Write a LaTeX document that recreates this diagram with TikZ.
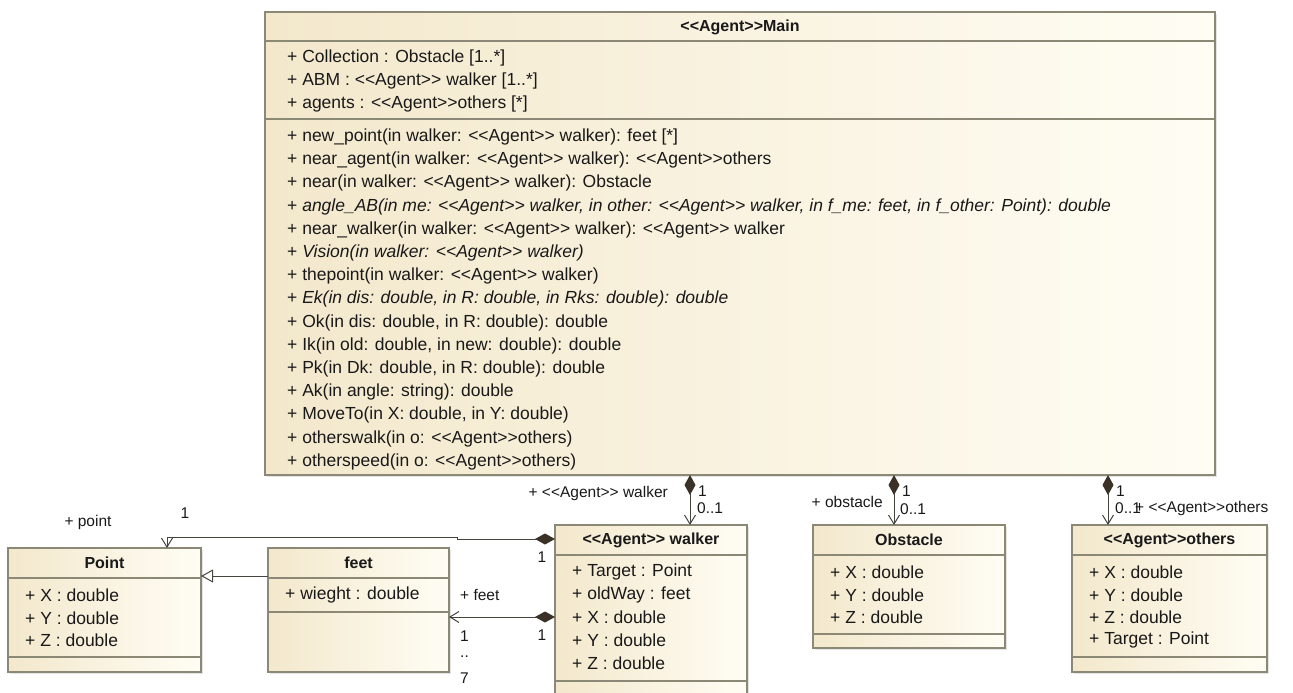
\documentclass[tikz,border=0pt]{standalone}
\usepackage{fontspec}
\newfontfamily\umlfont{Liberation Sans}
\usetikzlibrary{arrows.meta,shadows}

\definecolor{boxline}{RGB}{140,136,118}
\definecolor{fillL}{RGB}{243,232,204}
\definecolor{fillR}{RGB}{255,253,244}
\definecolor{conn}{RGB}{70,68,62}
\definecolor{diam}{RGB}{58,50,38}
\definecolor{txt}{RGB}{25,25,25}

\begin{document}
\begin{tikzpicture}[x=1pt,y=-1pt,
  classbox/.style={draw=boxline, line width=1.2pt, left color=fillL, right color=fillR,
    anchor=north west, inner sep=0pt, outer sep=0pt,
    general shadow={fill=black!30, opacity=.35, shadow xshift=2pt, shadow yshift=-2pt}},
  sepline/.style={draw=boxline, line width=1.1pt},
  member/.style={anchor=west, inner sep=0pt, text=txt, font=\umlfont\fontsize{17.5}{20}\selectfont},
  ctitle/.style={inner sep=0pt, text=txt, font=\umlfont\bfseries\fontsize{16}{19}\selectfont},
  lbl/.style={inner sep=0pt, text=txt, font=\umlfont\fontsize{15.5}{18}\selectfont},
  comp/.style={draw=conn, line width=1pt,
    arrows={Diamond[length=20pt,width=11pt,fill=diam,color=diam]-Straight Barb[length=9pt,width=11pt]}},
  gen/.style={draw=conn, line width=1pt, arrows={-Triangle[open,length=12pt,width=13pt]}}
]
\useasboundingbox (0,0) rectangle (1293,693);
\clip (0,0) rectangle (1293,693);

% ---------- class boxes ----------
\node[classbox, minimum width=950, minimum height=463] (main)  at (265,12) {};
\node[classbox, minimum width=192, minimum height=185] (walker) at (555,525) {};
\node[classbox, minimum width=192, minimum height=123] (obst)   at (813,525) {};
\node[classbox, minimum width=195, minimum height=147] (others) at (1072,525) {};
\node[classbox, minimum width=193, minimum height=124] (point)  at (8,548) {};
\node[classbox, minimum width=181, minimum height=124] (feet)   at (268,548) {};

% ---------- compartment separators ----------
\draw[sepline] (main.north west |- 0,41)  -- (main.north east |- 0,41);
\draw[sepline] (main.north west |- 0,119) -- (main.north east |- 0,119);
\draw[sepline] (walker.north west |- 0,555) -- (walker.north east |- 0,555);
\draw[sepline] (walker.north west |- 0,681) -- (walker.north east |- 0,681);
\draw[sepline] (obst.north west |- 0,555) -- (obst.north east |- 0,555);
\draw[sepline] (obst.north west |- 0,634) -- (obst.north east |- 0,634);
\draw[sepline] (others.north west |- 0,555) -- (others.north east |- 0,555);
\draw[sepline] (others.north west |- 0,657) -- (others.north east |- 0,657);
\draw[sepline] (point.north west |- 0,578) -- (point.north east |- 0,578);
\draw[sepline] (point.north west |- 0,657) -- (point.north east |- 0,657);
\draw[sepline] (feet.north west |- 0,578) -- (feet.north east |- 0,578);
\draw[sepline] (feet.north west |- 0,612) -- (feet.north east |- 0,612);

% ---------- titles ----------
\node[ctitle] (mainT)   at (main.north |- 0,27)   {<<Agent>>Main};
\node[ctitle] (walkerT) at (walker.north |- 0,540) {<<Agent>> walker};
\node[ctitle] (obstT)   at (obst.north |- 0,540)   {Obstacle};
\node[ctitle] (othersT) at (others.north |- 0,540) {<<Agent>>others};
\node[ctitle] (pointT)  at (point.north |- 0,563)  {Point};
\node[ctitle] (feetT)   at (feet.north |- 0,563)   {feet};

% ---------- Main: attributes and operations ----------
\foreach \txt [count=\i] in {
  {+ Collection : Obstacle [1..*]},
  {+ ABM : <<Agent>> walker [1..*]},
  {+ agents : <<Agent>>others [*]}}
  \node[member] (mainA\i) at (287,{58+23.2*(\i-1)}) {\txt};

\foreach \txt [count=\i] in {
  {+ new\_point(in walker: <<Agent>> walker): feet [*]},
  {+ near\_agent(in walker: <<Agent>> walker): <<Agent>>others},
  {+ near(in walker: <<Agent>> walker): Obstacle},
  {+ \textit{angle\_AB(in me: <<Agent>> walker, in other: <<Agent>> walker, in f\_me: feet, in f\_other: Point): double}},
  {+ near\_walker(in walker: <<Agent>> walker): <<Agent>> walker},
  {+ \textit{Vision(in walker: <<Agent>> walker)}},
  {+ thepoint(in walker: <<Agent>> walker)},
  {+ \textit{Ek(in dis: double, in R: double, in Rks: double): double}},
  {+ Ok(in dis: double, in R: double): double},
  {+ Ik(in old: double, in new: double): double},
  {+ Pk(in Dk: double, in R: double): double},
  {+ Ak(in angle: string): double},
  {+ MoveTo(in X: double, in Y: double)},
  {+ otherswalk(in o: <<Agent>>others)},
  {+ otherspeed(in o: <<Agent>>others)}}
  \node[member] (mainO\i) at (287,{137+23.2*(\i-1)}) {\txt};

% ---------- walker ----------
\foreach \txt [count=\i] in {
  {+ Target : Point}, {+ oldWay : feet}, {+ X : double}, {+ Y : double}, {+ Z : double}}
  \node[member] (walkerA\i) at (572,{572+22.8*(\i-1)}) {\txt};

% ---------- Obstacle ----------
\foreach \txt [count=\i] in {{+ X : double}, {+ Y : double}, {+ Z : double}}
  \node[member] (obstA\i) at (830,{572+22.8*(\i-1)}) {\txt};

% ---------- others ----------
\foreach \txt [count=\i] in {{+ X : double}, {+ Y : double}, {+ Z : double}, {+ Target : Point}}
  \node[member] (othersA\i) at (1089,{572+22.8*(\i-1)}) {\txt};

% ---------- Point ----------
\foreach \txt [count=\i] in {{+ X : double}, {+ Y : double}, {+ Z : double}}
  \node[member] (pointA\i) at (25,{595+22.8*(\i-1)}) {\txt};

% ---------- feet ----------
\node[member] (feetA1) at (285,595) {+ wieght : double};

% ---------- connectors ----------
\draw[comp] (main.south -| 690,0)  -- (walker.north -| 690,0);
\draw[comp] (main.south -| 894,0)  -- (obst.north -| 894,0);
\draw[comp] (main.south -| 1108,0) -- (others.north -| 1108,0);
\draw[comp] (walker.north west |- 0,539) -- (457,539) -- (457,537) -- (167,537)
            -- (point.north -| 167,0);
\draw[comp] (walker.north west |- 0,617) -- (feet.north east |- 0,617);
\draw[gen]  (feet.north west |- 0,576) -- (point.north east |- 0,576);

% ---------- role names and multiplicities ----------
\node[lbl, anchor=east] (roleWalker) at (668,493) {+ <<Agent>> walker};
\node[lbl, anchor=west] (mulW1) at (698,491) {1};
\node[lbl, anchor=west] (mulW2) at (697,508) {0..1};
\node[lbl, anchor=east] (roleObst) at (883,502) {+ obstacle};
\node[lbl, anchor=west] (mulO1) at (902,491) {1};
\node[lbl, anchor=west] (mulO2) at (900,509) {0..1};
\node[lbl, anchor=west] (mulA1) at (1116,491) {1};
\node[lbl, anchor=west] (mulA2) at (1115,508) {0..1};
\node[lbl, anchor=west] (roleOthers) at (1135,508) {+ <<Agent>>others};
\node[lbl] (rolePoint) at (88,522) {+ point};
\node[lbl] (mulP1) at (185,513) {1};
\node[lbl] (mulP2) at (542,557) {1};
\node[lbl, anchor=west] (roleFeet) at (460,595) {+ feet};
\node[lbl, anchor=west] (mulF1) at (460,636) {1};
\node[lbl, anchor=west] (mulF2) at (460,657) {..};
\node[lbl, anchor=west] (mulF3) at (460,678) {7};
\node[lbl] (mulF4) at (542,635) {1};
\end{tikzpicture}
\end{document}
